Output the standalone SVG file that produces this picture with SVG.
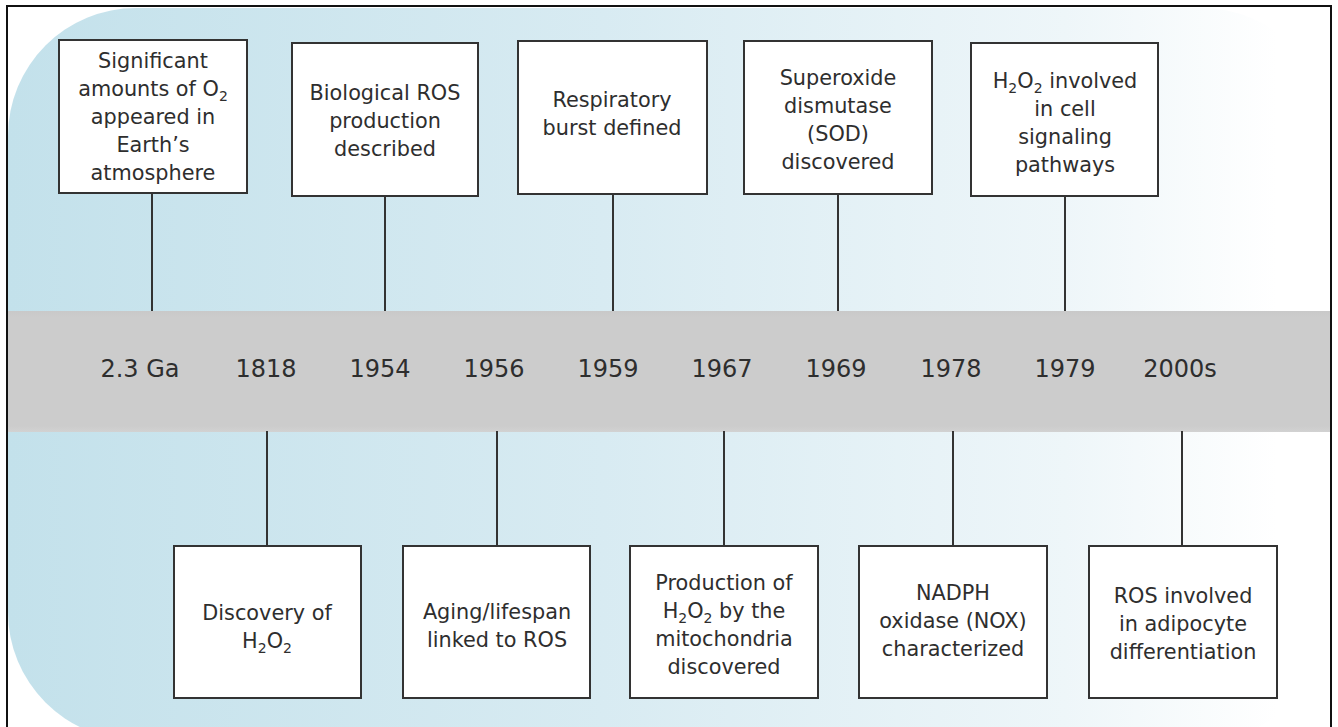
<svg xmlns="http://www.w3.org/2000/svg" width="1338" height="727" viewBox="0 0 1338 727">
<defs>
<linearGradient id="bg" x1="0" y1="0" x2="1" y2="0">
<stop offset="0" stop-color="#c3e1eb"/>
<stop offset="0.45" stop-color="#d8ebf2"/>
<stop offset="0.8" stop-color="#eef6f9"/>
<stop offset="0.96" stop-color="#ffffff"/>
</linearGradient>
<linearGradient id="band" x1="0" y1="0" x2="0" y2="1">
<stop offset="0" stop-color="#c9c9c9"/>
<stop offset="0.05" stop-color="#cccccc"/>
<stop offset="0.95" stop-color="#cccccc"/>
<stop offset="1" stop-color="#d2d2d2"/>
</linearGradient>
<style>
.box{fill:#ffffff;stroke:#333333;stroke-width:2}
.t{font-family:"DejaVu Sans",Verdana,sans-serif;font-size:20.8px;fill:#2e2e2e;text-anchor:middle}
.yr{font-family:"DejaVu Sans",Verdana,sans-serif;font-size:24px;fill:#2e2e2e;text-anchor:middle}
.s{font-size:14px}
.conn line{stroke:#333333;stroke-width:2}
</style>
</defs>
<rect x="0" y="0" width="1338" height="727" fill="#ffffff"/>
<rect x="8" y="8" width="1322" height="732" rx="128" ry="128" fill="url(#bg)"/>
<rect x="8" y="311" width="1323" height="121" fill="url(#band)"/>
<rect x="7" y="6" width="1324" height="740" fill="none" stroke="#111111" stroke-width="2"/>

<g id="connectors" class="conn">
<line x1="152" y1="193" x2="152" y2="311"/>
<line x1="385" y1="196" x2="385" y2="311"/>
<line x1="613" y1="194" x2="613" y2="311"/>
<line x1="838" y1="194" x2="838" y2="311"/>
<line x1="1065" y1="196" x2="1065" y2="311"/>
<line x1="267" y1="431" x2="267" y2="546"/>
<line x1="497" y1="431" x2="497" y2="546"/>
<line x1="724" y1="431" x2="724" y2="546"/>
<line x1="953" y1="431" x2="953" y2="546"/>
<line x1="1182" y1="431" x2="1182" y2="546"/>
</g>

<g id="years">
<text class="yr" x="140" y="377">2.3 Ga</text>
<text class="yr" x="266" y="377">1818</text>
<text class="yr" x="380" y="377">1954</text>
<text class="yr" x="494" y="377">1956</text>
<text class="yr" x="608" y="377">1959</text>
<text class="yr" x="722" y="377">1967</text>
<text class="yr" x="836" y="377">1969</text>
<text class="yr" x="951" y="377">1978</text>
<text class="yr" x="1065" y="377">1979</text>
<text class="yr" x="1180" y="377">2000s</text>
</g>

<g id="n1">
<rect class="box" x="59" y="40" width="188" height="153"/>
<text class="t" x="153" y="68">Significant</text>
<text class="t" x="153" y="96">amounts of O<tspan class="s" dy="5">2</tspan></text>
<text class="t" x="153" y="124">appeared in</text>
<text class="t" x="153" y="152">Earth’s</text>
<text class="t" x="153" y="180">atmosphere</text>
</g>
<g id="n2">
<rect class="box" x="292" y="43" width="186" height="153"/>
<text class="t" x="385" y="100">Biological ROS</text>
<text class="t" x="385" y="128">production</text>
<text class="t" x="385" y="156">described</text>
</g>
<g id="n3">
<rect class="box" x="518" y="41" width="189" height="153"/>
<text class="t" x="612" y="107">Respiratory</text>
<text class="t" x="612" y="135">burst defined</text>
</g>
<g id="n4">
<rect class="box" x="744" y="41" width="188" height="153"/>
<text class="t" x="838" y="85">Superoxide</text>
<text class="t" x="838" y="113">dismutase</text>
<text class="t" x="838" y="141">(SOD)</text>
<text class="t" x="838" y="169">discovered</text>
</g>
<g id="n5">
<rect class="box" x="971" y="43" width="187" height="153"/>
<text class="t" x="1065" y="88">H<tspan class="s" dy="5">2</tspan><tspan dy="-5">O</tspan><tspan class="s" dy="5">2</tspan><tspan dy="-5"> involved</tspan></text>
<text class="t" x="1065" y="116">in cell</text>
<text class="t" x="1065" y="144">signaling</text>
<text class="t" x="1065" y="172">pathways</text>
</g>
<g id="n6">
<rect class="box" x="174" y="546" width="187" height="152"/>
<text class="t" x="267" y="620">Discovery of</text>
<text class="t" x="267" y="648">H<tspan class="s" dy="5">2</tspan><tspan dy="-5">O</tspan><tspan class="s" dy="5">2</tspan></text>
</g>
<g id="n7">
<rect class="box" x="403" y="546" width="187" height="152"/>
<text class="t" x="497" y="619">Aging/lifespan</text>
<text class="t" x="497" y="647">linked to ROS</text>
</g>
<g id="n8">
<rect class="box" x="630" y="546" width="188" height="152"/>
<text class="t" x="724" y="590">Production of</text>
<text class="t" x="724" y="618">H<tspan class="s" dy="5">2</tspan><tspan dy="-5">O</tspan><tspan class="s" dy="5">2</tspan><tspan dy="-5"> by the</tspan></text>
<text class="t" x="724" y="646">mitochondria</text>
<text class="t" x="724" y="674">discovered</text>
</g>
<g id="n9">
<rect class="box" x="859" y="546" width="188" height="152"/>
<text class="t" x="953" y="600">NADPH</text>
<text class="t" x="953" y="628">oxidase (NOX)</text>
<text class="t" x="953" y="656">characterized</text>
</g>
<g id="n10">
<rect class="box" x="1089" y="546" width="188" height="152"/>
<text class="t" x="1183" y="603">ROS involved</text>
<text class="t" x="1183" y="631">in adipocyte</text>
<text class="t" x="1183" y="659">differentiation</text>
</g>
</svg>
